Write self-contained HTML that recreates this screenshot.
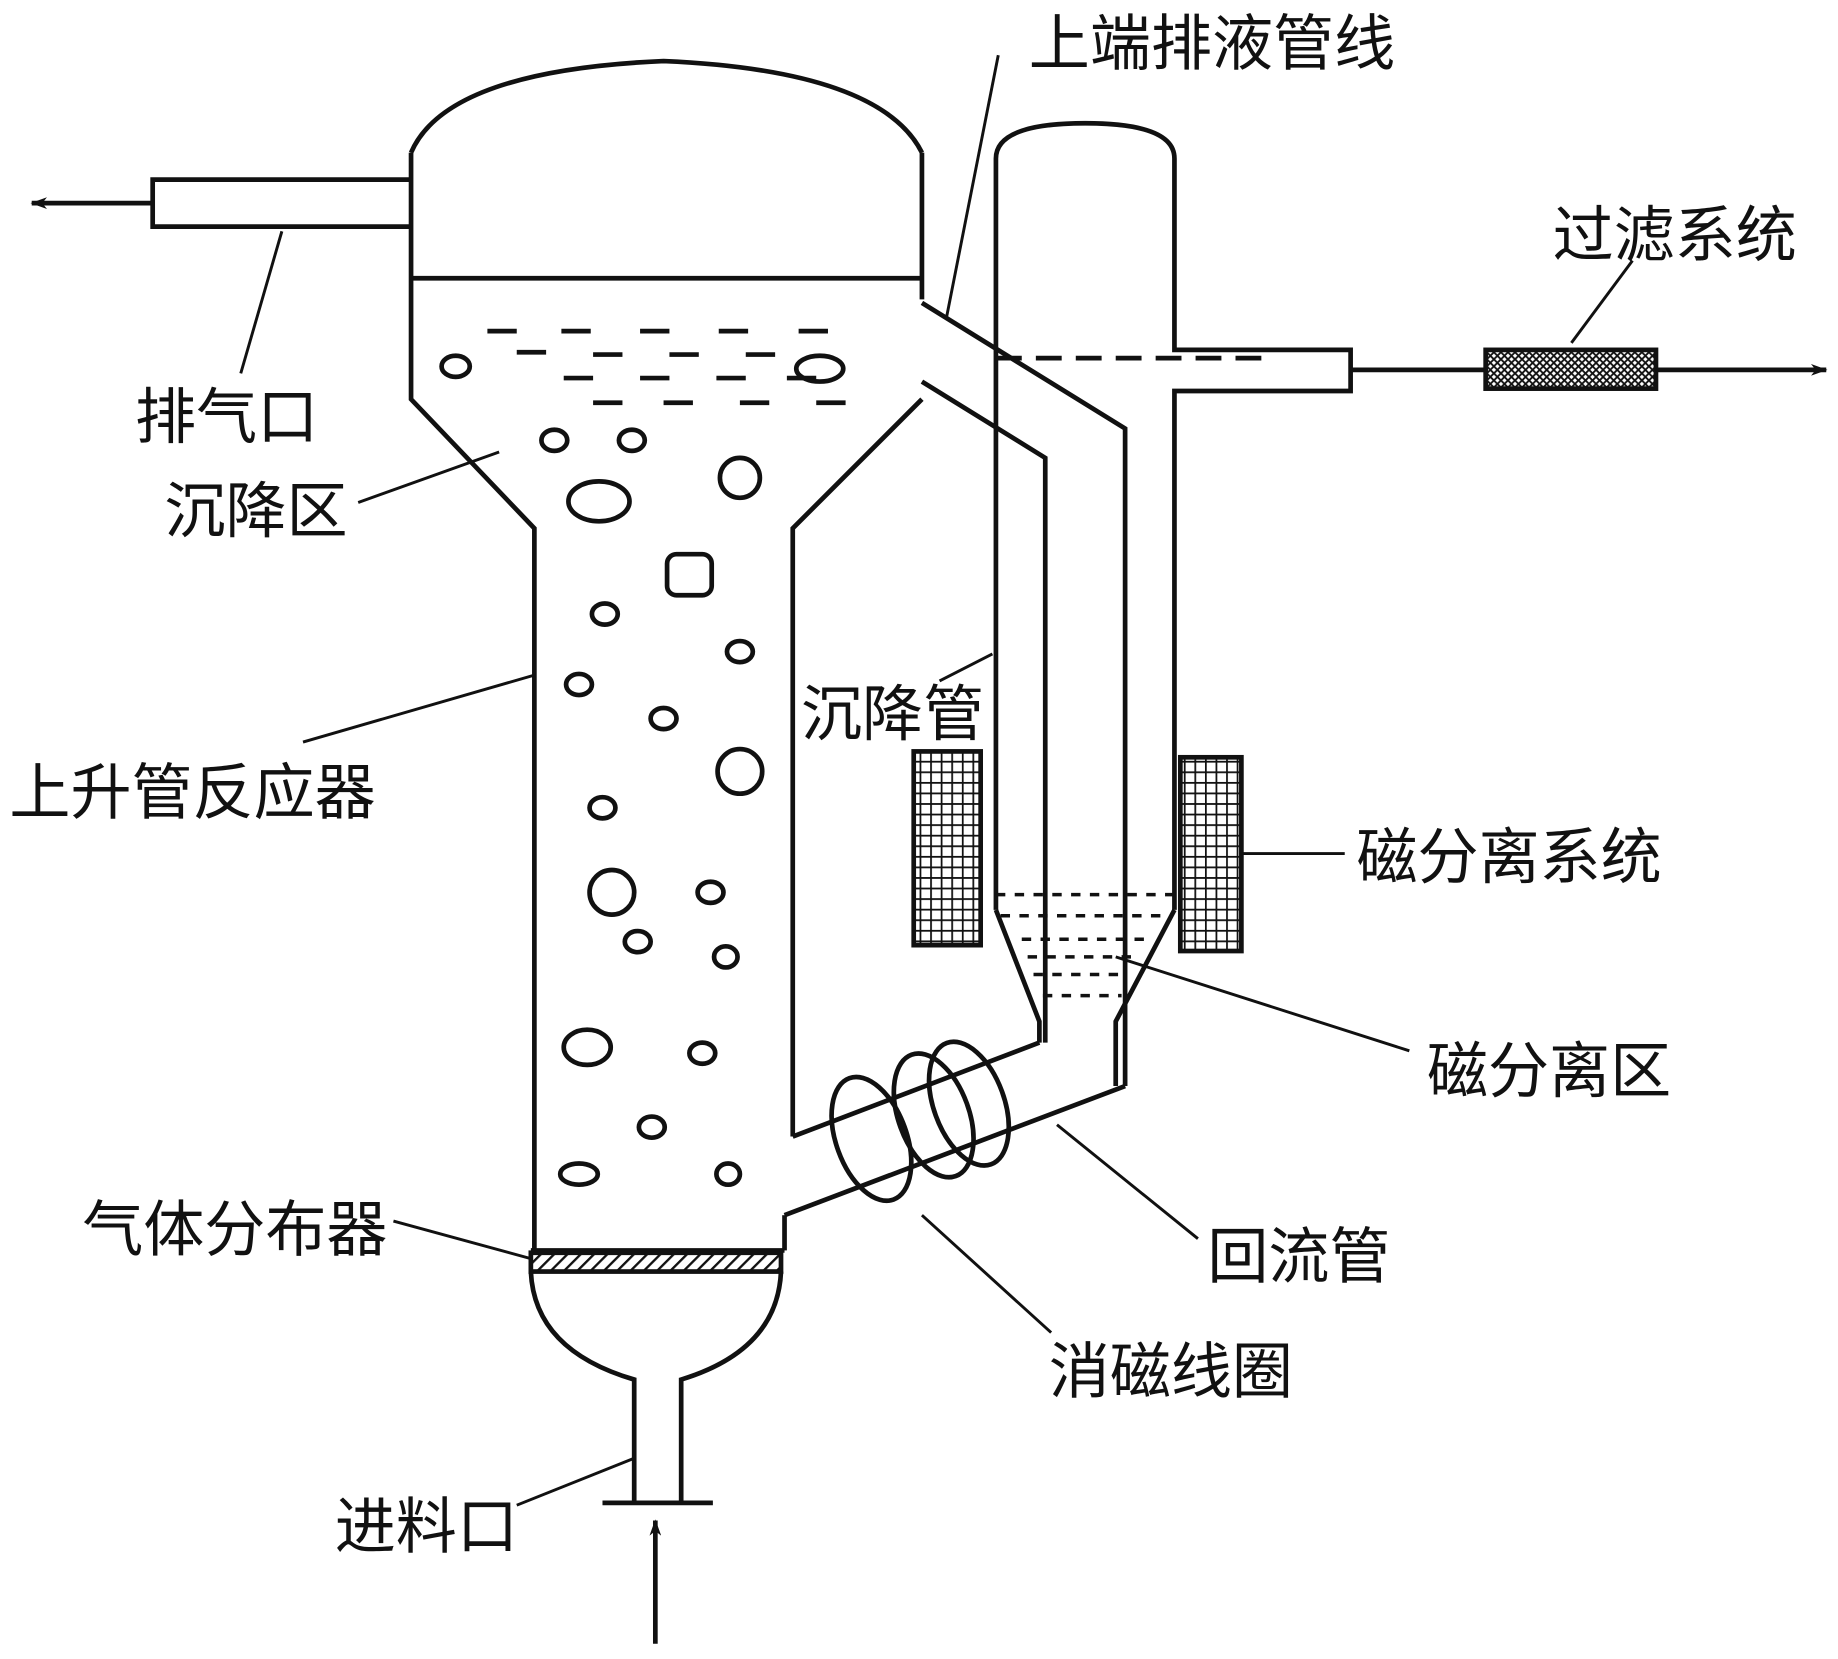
<!DOCTYPE html>
<html><head><meta charset="utf-8"><style>
html,body{margin:0;padding:0;background:#fff;}
svg{display:block;}
text{font-family:"Liberation Sans","Noto Sans CJK SC",sans-serif;font-size:52px;fill:#111;}
</style></head><body>
<svg width="1838" height="1659" viewBox="0 0 1565 1413" preserveAspectRatio="none" xmlns="http://www.w3.org/2000/svg">
<defs>
<pattern id="grid" width="9" height="9" patternUnits="userSpaceOnUse"><rect width="9" height="9" fill="#fff"/><path d="M0 0H9M0 0V9" stroke="#111" stroke-width="3"/></pattern>
<pattern id="xh" width="6" height="6" patternUnits="userSpaceOnUse"><rect width="6" height="6" fill="#fff"/><path d="M0 0L6 6M6 0L0 6" stroke="#111" stroke-width="1.6"/></pattern>
<pattern id="hat" width="8" height="8" patternUnits="userSpaceOnUse" patternTransform="rotate(45)"><rect width="8" height="8" fill="#fff"/><path d="M0 0V8" stroke="#111" stroke-width="4"/></pattern>
<marker id="ar" markerWidth="14" markerHeight="10" refX="13" refY="5" orient="auto" markerUnits="userSpaceOnUse"><path d="M0 0L14 5L0 10L4 5Z" fill="#111"/></marker>
</defs>
<g fill="none" stroke="#111" stroke-width="4">
<path d="M350 130 Q 380 60 565 52 Q 750 60 785 130"/>
<line x1="350" y1="237" x2="785" y2="237"/>
<path d="M350 153 H130 V193 H350"/>
<line x1="130" y1="173" x2="27" y2="173" marker-end="url(#ar)"/>
<path d="M350 130 V340 L455 450 V1065"/>
<path d="M785 130 V255"/>
<path d="M785 340 L675 450 V968"/>
<path d="M785 258 L958 365 V925"/>
<path d="M785 325 L890 390 V888"/>
<path d="M675 968 L885 888"/>
<path d="M668 1035 L958 925"/>
<line x1="668" y1="1035" x2="668" y2="1065"/>
<path d="M848 775 V135 Q 848 105 924 105 Q 1000 105 1000 135 V298 H1150 V333 H1000 V775"/>
<path d="M848 775 L885 870 V888"/>
<path d="M1000 775 L950 870 V925"/>
<line x1="452" y1="1065" x2="668" y2="1065"/>
<rect x="452" y="1067" width="213" height="16" fill="url(#hat)"/>
<path d="M452 1083 Q 455 1150 540 1175 V1280"/>
<path d="M665 1083 Q 662 1150 580 1175 V1280"/>
<line x1="513" y1="1280" x2="607" y2="1280"/>
<line x1="558" y1="1400" x2="558" y2="1295" marker-end="url(#ar)"/>
<line x1="1150" y1="315" x2="1265" y2="315"/>
<rect x="1265" y="298" width="145" height="33" fill="url(#xh)"/>
<line x1="1410" y1="315" x2="1555" y2="315" marker-end="url(#ar)"/>
<line x1="848" y1="305" x2="1080" y2="305" stroke-dasharray="22 12"/>
<rect x="778" y="640" width="57" height="165" fill="url(#grid)"/>
<rect x="1005" y="645" width="52" height="165" fill="url(#grid)"/>
<g stroke-width="3">
<line x1="848" y1="762" x2="1000" y2="762" stroke-dasharray="8 8"/>
<line x1="852" y1="780" x2="995" y2="780" stroke-dasharray="8 8"/>
<line x1="870" y1="800" x2="975" y2="800" stroke-dasharray="8 8"/>
<line x1="875" y1="815" x2="965" y2="815" stroke-dasharray="8 8"/>
<line x1="880" y1="830" x2="960" y2="830" stroke-dasharray="8 8"/>
<line x1="888" y1="848" x2="955" y2="848" stroke-dasharray="8 8"/>
</g>
<path d="M415 282h25M478 282h25M545 282h25M612 282h25M680 282h25 M440 300h25M505 302h25M570 302h25M635 302h25 M480 322h25M545 322h25M610 322h25M670 322h25 M505 343h25M565 343h25M630 343h25M695 343h25"/>
<ellipse cx="388" cy="312" rx="12" ry="9"/>
<ellipse cx="698" cy="314" rx="20" ry="11"/>
<ellipse cx="472" cy="375" rx="11" ry="9"/>
<ellipse cx="538" cy="375" rx="11" ry="9"/>
<ellipse cx="510" cy="427" rx="26" ry="17"/>
<circle cx="630" cy="407" r="17"/>
<rect x="568" y="472" width="38" height="35" rx="8"/>
<ellipse cx="515" cy="523" rx="11" ry="9"/>
<ellipse cx="630" cy="555" rx="11" ry="9"/>
<ellipse cx="493" cy="583" rx="11" ry="9"/>
<ellipse cx="565" cy="612" rx="11" ry="9"/>
<circle cx="630" cy="657" r="19"/>
<ellipse cx="513" cy="688" rx="11" ry="9"/>
<circle cx="521" cy="760" r="19"/>
<ellipse cx="605" cy="760" rx="11" ry="9"/>
<ellipse cx="543" cy="802" rx="11" ry="9"/>
<ellipse cx="618" cy="815" rx="10" ry="9"/>
<ellipse cx="500" cy="892" rx="20" ry="15"/>
<ellipse cx="598" cy="897" rx="11" ry="9"/>
<ellipse cx="555" cy="960" rx="11" ry="9"/>
<ellipse cx="493" cy="1000" rx="16" ry="9"/>
<ellipse cx="620" cy="1000" rx="10" ry="9"/>
<ellipse cx="742" cy="970" rx="30" ry="55" transform="rotate(-20 742 970)"/>
<ellipse cx="795" cy="950" rx="30" ry="55" transform="rotate(-20 795 950)"/>
<ellipse cx="825" cy="940" rx="30" ry="55" transform="rotate(-20 825 940)"/>
<g stroke-width="2.5">
<line x1="240" y1="197" x2="205" y2="318"/>
<line x1="425" y1="385" x2="305" y2="428"/>
<line x1="455" y1="575" x2="258" y2="632"/>
<line x1="452" y1="1072" x2="335" y2="1040"/>
<line x1="540" y1="1242" x2="440" y2="1282"/>
<line x1="806" y1="270" x2="850" y2="47"/>
<line x1="845" y1="557" x2="800" y2="580"/>
<line x1="1338" y1="292" x2="1390" y2="222"/>
<line x1="1057" y1="727" x2="1145" y2="727"/>
<line x1="950" y1="815" x2="1200" y2="895"/>
<line x1="900" y1="958" x2="1020" y2="1055"/>
<line x1="785" y1="1035" x2="895" y2="1135"/>
</g>
</g>
<text x="876" y="55">上端排液管线</text>
<text x="1322" y="218">过滤系统</text>
<text x="115" y="373">排气口</text>
<text x="140" y="453">沉降区</text>
<text x="682" y="626">沉降管</text>
<text x="8" y="693">上升管反应器</text>
<text x="1155" y="748">磁分离系统</text>
<text x="1215" y="930">磁分离区</text>
<text x="70" y="1065">气体分布器</text>
<text x="1028" y="1088">回流管</text>
<text x="893" y="1186">消磁线圈</text>
<text x="285" y="1318">进料口</text>
</svg>
</body></html>
